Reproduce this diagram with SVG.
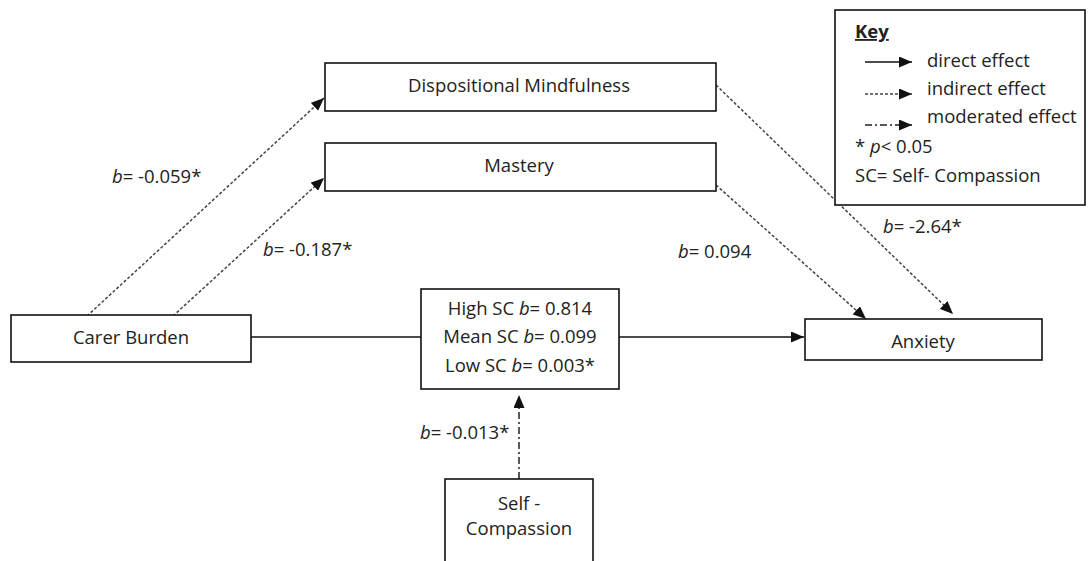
<svg xmlns="http://www.w3.org/2000/svg" width="1091" height="561" viewBox="0 0 1091 561">
<style>
text{font-family:"Open Sans","Noto Sans","Liberation Sans",sans-serif;font-size:18.5px;fill:#222}
.box{fill:#fff;stroke:#111;stroke-width:1.6}
.solid{stroke:#111;stroke-width:1.5;fill:none}
.dot{stroke:#444;stroke-width:1.5;fill:none;stroke-dasharray:3 2}
.dd{stroke:#222;stroke-width:1.5;fill:none;stroke-dasharray:7 3 2 3}
.c{text-anchor:middle}
</style>
<defs>
<marker id="ah" viewBox="0 0 13 11" refX="13" refY="5.5" markerWidth="13" markerHeight="11" markerUnits="userSpaceOnUse" orient="auto">
<path d="M0,0 L13,5.5 L0,11 z" fill="#111"/>
</marker>
</defs>
<g id="connectors">
<line class="dot" x1="87" y1="316" x2="324" y2="98" marker-end="url(#ah)"/>
<line class="dot" x1="173" y1="316" x2="324" y2="178" marker-end="url(#ah)"/>
<line class="dot" x1="716" y1="85" x2="953" y2="314" marker-end="url(#ah)"/>
<line class="dot" x1="716" y1="185" x2="866" y2="319" marker-end="url(#ah)"/>
<line class="solid" x1="251" y1="337" x2="421" y2="337"/>
<line class="solid" x1="619" y1="337" x2="804" y2="337" marker-end="url(#ah)"/>
<line class="dd" x1="519" y1="479" x2="519" y2="395" marker-end="url(#ah)"/>
<text x="112" y="183"><tspan font-style="italic">b</tspan>= -0.059*</text>
<text x="263" y="256"><tspan font-style="italic">b</tspan>= -0.187*</text>
<text x="678" y="258"><tspan font-style="italic">b</tspan>= 0.094</text>
<text x="883" y="233"><tspan font-style="italic">b</tspan>= -2.64*</text>
<text x="420" y="439"><tspan font-style="italic">b</tspan>= -0.013*</text>
</g>
<g id="mindfulness">
<rect class="box" x="325" y="63" width="391" height="48"/>
<text class="c" x="519" y="92">Dispositional Mindfulness</text>
</g>
<g id="mastery">
<rect class="box" x="325" y="143" width="391" height="48"/>
<text class="c" x="519" y="172">Mastery</text>
</g>
<g id="carer-burden">
<rect class="box" x="11" y="315" width="240" height="47"/>
<text class="c" x="131" y="344">Carer Burden</text>
</g>
<g id="moderation">
<rect class="box" x="421" y="289" width="198" height="100"/>
<text class="c" x="520" y="315">High SC <tspan font-style="italic">b</tspan>= 0.814</text>
<text class="c" x="520" y="343">Mean SC <tspan font-style="italic">b</tspan>= 0.099</text>
<text class="c" x="520" y="372">Low SC <tspan font-style="italic">b</tspan>= 0.003*</text>
</g>
<g id="anxiety">
<rect class="box" x="805" y="319" width="237" height="41"/>
<text class="c" x="923" y="348">Anxiety</text>
</g>
<g id="self-compassion">
<rect class="box" x="445" y="479" width="148" height="90"/>
<text class="c" x="519" y="510">Self -</text>
<text class="c" x="519" y="535">Compassion</text>
</g>
<g id="legend">
<rect class="box" x="835" y="10" width="250" height="195"/>
<text x="855" y="38" font-weight="bold" text-decoration="underline">Key</text>
<line class="solid" x1="865" y1="62" x2="912" y2="62" marker-end="url(#ah)"/>
<text x="927" y="67">direct effect</text>
<line class="dot" x1="865" y1="94" x2="912" y2="94" marker-end="url(#ah)"/>
<text x="927" y="95">indirect effect</text>
<line class="dd" x1="865" y1="125" x2="912" y2="125" marker-end="url(#ah)"/>
<text x="927" y="123">moderated effect</text>
<text x="855" y="153">* <tspan font-style="italic">p</tspan>&lt; 0.05</text>
<text x="855" y="182">SC= Self- Compassion</text>
</g>
</svg>
